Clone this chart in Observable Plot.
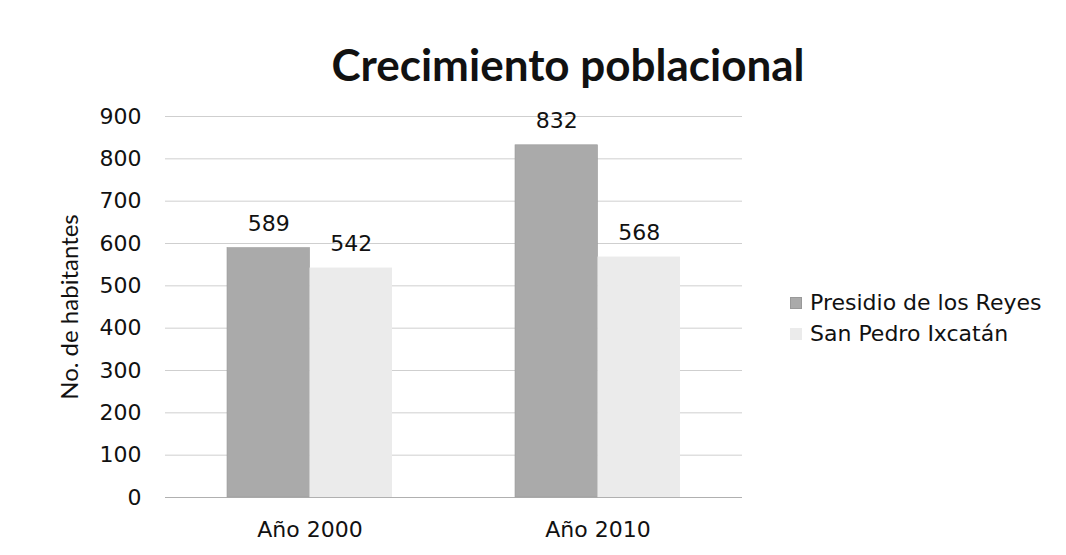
<!DOCTYPE html>
<html>
<head>
<meta charset="utf-8">
<script src="https://cdn.jsdelivr.net/npm/d3@7"></script>
<script src="https://cdn.jsdelivr.net/npm/@observablehq/plot@0.6"></script>
<style>
  html, body { margin: 0; padding: 0; background: #fff; }
  #wrap { position: relative; width: 1066px; height: 555px; overflow: hidden; }
  #title { position: absolute; left: 0; width: 1136px; top: 38px; text-align: center; line-height: 1.2;
           font-family: Lato, "Open Sans", sans-serif; font-weight: bold; font-size: 44px; color: #111; }
  #legend { position: absolute; left: 790px; top: 287px; font-family: "DejaVu Sans", sans-serif;
            font-size: 22px; color: #111; }
  #legend .row { display: flex; align-items: center; height: 31px; }
  #legend .sw { width: 12px; height: 12px; margin-right: 8px; box-sizing: border-box; }
  #chart { position: absolute; left: 0; top: 0; }
</style>
</head>
<body>
<div id="wrap">
  <div id="chart"></div>
  <div id="title">Crecimiento poblacional</div>
  <div id="legend"></div>
</div>
<script>
const years = ["Año 2000", "Año 2010"];
const seriesNames = ["Presidio de los Reyes", "San Pedro Ixcatán"];
const presidio = [589, 832];
const sanPedro = [542, 568];
const yTicks = [0, 100, 200, 300, 400, 500, 600, 700, 800, 900];
const colors = ["#aaaaaa", "#ebebeb"];

const dataP = years.map((y, i) => ({year: y, value: presidio[i]}));
const dataS = years.map((y, i) => ({year: y, value: sanPedro[i]}));

const W = 1066, H = 555;
const mL = 165, mR = 324, mT = 116, mB = 58;
const step = (W - mL - mR) / years.length;
const pi = 0.428;
const bw = step * (1 - pi);
const half = bw / 2;
const fs = 22;

const chart = Plot.plot({
  width: W, height: H,
  marginLeft: mL, marginRight: mR, marginTop: mT, marginBottom: mB,
  style: {fontFamily: "'DejaVu Sans', sans-serif", fontSize: fs + "px", color: "#111", background: "transparent"},
  x: {domain: years, paddingInner: pi, paddingOuter: pi / 2, label: null},
  y: {domain: [0, 900], label: null},
  marks: [
    Plot.gridY(yTicks, {stroke: "#cfcfcf", strokeOpacity: 1, strokeWidth: 1}),
    Plot.axisY({ticks: yTicks, tickSize: 0, tickPadding: 24, label: null, fontSize: fs}),
    Plot.axisX({tickSize: 0, tickPadding: 24, label: null, fontSize: fs}),
    Plot.ruleY([0], {stroke: "#b0b0b0"}),
    Plot.barY(dataP, {x: "year", y: "value", fill: colors[0], stroke: "#9a9a9a", strokeWidth: 0.6, insetRight: half}),
    Plot.barY(dataS, {x: "year", y: "value", fill: colors[1], insetLeft: half}),
    Plot.text(dataP, {x: "year", y: "value", text: d => String(d.value), dx: -half / 2, dy: -24, fontSize: fs, fill: "#111"}),
    Plot.text(dataS, {x: "year", y: "value", text: d => String(d.value), dx: half / 2, dy: -24, fontSize: fs, fill: "#111"}),
    Plot.text(["No. de habitantes"], {frameAnchor: "left", textAnchor: "middle", dx: -95, rotate: -90, fontSize: 24, fontFamily: "Lato, sans-serif", fill: "#111"})
  ]
});
document.getElementById("chart").appendChild(chart);

const legend = document.getElementById("legend");
seriesNames.forEach((name, i) => {
  const row = document.createElement("div");
  row.className = "row";
  const sw = document.createElement("span");
  sw.className = "sw";
  sw.style.background = colors[i];
  sw.style.border = i === 0 ? "1px solid #999" : "none";
  const t = document.createElement("span");
  t.textContent = name;
  row.appendChild(sw);
  row.appendChild(t);
  legend.appendChild(row);
});
</script>
</body>
</html>
